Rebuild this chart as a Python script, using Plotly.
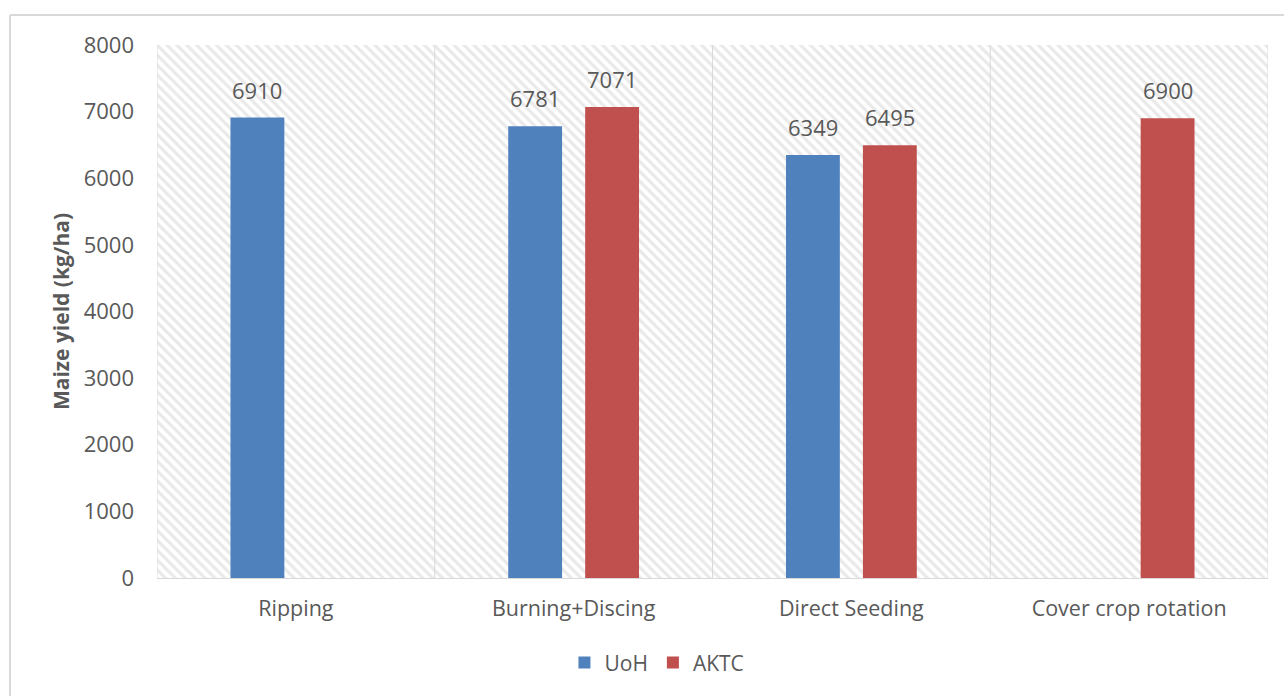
import plotly.graph_objects as go

# Tillage treatments and maize yields (kg/ha) for the two trial sites
treatments = ["Ripping", "Burning+Discing", "Direct Seeding", "Cover crop rotation"]
uoh_yield = [6910, 6781, 6349, None]
aktc_yield = [None, 7071, 6495, 6900]
y_ticks = [0, 1000, 2000, 3000, 4000, 5000, 6000, 7000, 8000]

GRAY_TEXT = "#595959"
GRID = "#d9d9d9"
FONT = "Open Sans"

fig = go.Figure()

# Hatched plot-area background on its own hidden axes (drawn first, underneath)
fig.add_trace(go.Bar(
    x=[0.5], y=[1], width=[1],
    xaxis="x", yaxis="y",
    marker=dict(color="white", line=dict(width=0),
                pattern=dict(shape="\\", fgcolor="#d3d3d3", bgcolor="white",
                             size=7, solidity=0.45)),
    showlegend=False, hoverinfo="skip",
))

series = [("UoH", uoh_yield, "#4f81bd", -38.5), ("AKTC", aktc_yield, "#c0504d", 38.5)]

annotations = []
for name, vals, color, shift in series:
    fig.add_trace(go.Bar(
        name=name, x=treatments, y=vals, xaxis="x2", yaxis="y2",
        marker=dict(color=color, line=dict(width=0)),
        hoverinfo="x+y+name",
    ))
    # value labels above each bar
    for cat, v in zip(treatments, vals):
        if v is None:
            continue
        annotations.append(dict(
            x=cat, y=v, xref="x2", yref="y2", text=str(v), showarrow=False,
            xanchor="center", yanchor="bottom", xshift=shift, yshift=11,
            font=dict(size=22, color=GRAY_TEXT, family=FONT),
        ))

# Category separators (vertical gridlines at group boundaries)
shapes = []
for b in [-0.5, 0.5, 1.5, 2.5, 3.5]:
    shapes.append(dict(type="line", xref="x2", yref="paper", x0=b, x1=b, y0=0, y1=1,
                       line=dict(color=GRID, width=1), layer="above"))
# Outer chart border
shapes.append(dict(type="line", xref="paper", yref="paper", x0=-0.1323, x1=1.03,
                   y0=1.0563, y1=1.0563, line=dict(color=GRID, width=2)))
shapes.append(dict(type="line", xref="paper", yref="paper", x0=-0.1323, x1=-0.1323,
                   y0=-0.25, y1=1.0563, line=dict(color=GRID, width=2)))

fig.update_layout(
    width=1284, height=696,
    margin=dict(l=157, r=16, t=45, b=118),
    paper_bgcolor="white", plot_bgcolor="white",
    barmode="group", bargap=0.446, bargroupgap=0.30,
    font=dict(family=FONT, color=GRAY_TEXT, size=20),
    xaxis=dict(range=[0, 1], visible=False, fixedrange=True),
    yaxis=dict(range=[0, 1], visible=False, fixedrange=True),
    xaxis2=dict(overlaying="x", anchor="y2", type="category",
                showgrid=False, showline=True, linecolor=GRID, linewidth=1,
                ticks="", ticklabelstandoff=11,
                tickfont=dict(size=21.5, color=GRAY_TEXT, family=FONT),
                range=[-0.5, 3.5]),
    yaxis2=dict(overlaying="y", anchor="x2", range=[0, 8000],
                tickvals=y_ticks, showgrid=False, zeroline=False, showline=False,
                ticks="", ticklabelstandoff=22,
                tickfont=dict(size=22, color=GRAY_TEXT, family=FONT),
                title=dict(text="<b>Maize yield (kg/ha)</b>", standoff=8,
                           font=dict(size=21, color=GRAY_TEXT, family=FONT))),
    legend=dict(orientation="h", x=0.45, xanchor="center", y=-0.159, yanchor="middle",
                font=dict(size=21, color=GRAY_TEXT, family=FONT),
                itemsizing="constant", itemwidth=30, traceorder="normal"),
    annotations=annotations,
    shapes=shapes,
    showlegend=True,
)

fig.write_html("out.html")
